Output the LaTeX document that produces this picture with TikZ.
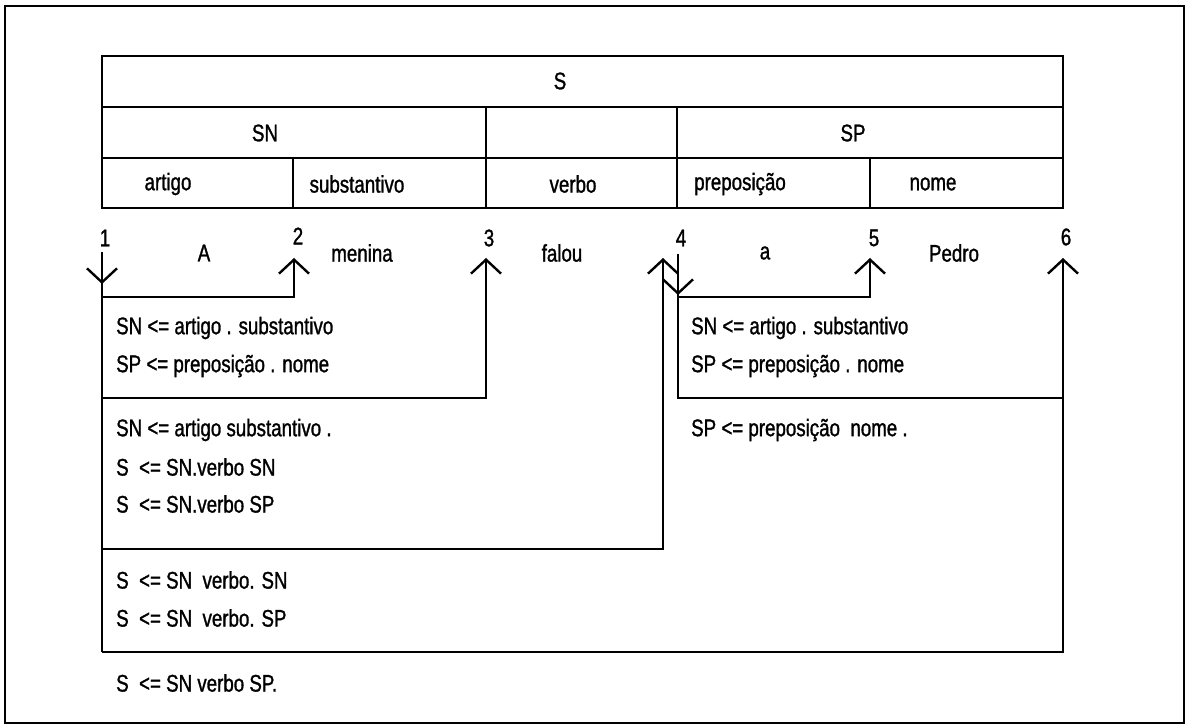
\documentclass[tikz,border=0pt]{standalone}
\usepackage{fontspec}
\setmainfont{Liberation Sans}[FakeStretch=0.78,FakeBold=1.2]
\usetikzlibrary{arrows.meta}
\begin{document}
\begin{tikzpicture}[x=0.5pt,y=-0.5pt,
  line width=1.2pt,
  txt/.style={inner sep=0pt,font=\fontsize{12}{14}\selectfont},
  ltxt/.style={txt,anchor=west},
  arr/.style={-{Straight Barb[length=7pt,width=15pt,line width=1.2pt]}},
  ]
\useasboundingbox (0,0) rectangle (1187,726);
% outer frame
\draw[line width=1pt] (5,6) rectangle (1184,723);
% table grid
\draw (102,56) rectangle (1063,208);
\draw (102,107) -- (1063,107);
\draw (102,158) -- (1063,158);
\draw (486,107) -- (486,208);
\draw (677,107) -- (677,208);
\draw (293,158) -- (293,208);
\draw (870,158) -- (870,208);
% table labels
\node[txt] (tS) at (560,81) {S};
\node[txt] (tSN) at (265,133) {SN};
\node[txt] (tSP) at (853,133) {SP};
\node[txt] (tart) at (168,184) {artigo};
\node[txt] (tsub) at (357,184) {substantivo};
\node[txt] (tverb) at (573,184) {verbo};
\node[txt] (tprep) at (740,184) {preposição};
\node[txt] (tnome) at (933,184) {nome};
% vertex numbers
\node[txt] (n1) at (105,238) {1};
\node[txt] (n2) at (298,236) {2};
\node[txt] (n3) at (489,238) {3};
\node[txt] (n4) at (681,238) {4};
\node[txt] (n5) at (874,238) {5};
\node[txt] (n6) at (1066,237) {6};
% words
\node[txt] (wA) at (204,253) {A};
\node[txt] (wmenina) at (362,253) {menina};
\node[txt] (wfalou) at (562,253) {falou};
\node[txt] (wa) at (765,253) {a};
\node[txt] (wPedro) at (954,253) {Pedro};
% coordinates for the chart edges
\coordinate (a1top) at (102,252);
\coordinate (a1tip) at (102,284);
\coordinate (b12) at (102,297);
\coordinate (tip2) at (294,258);
\coordinate (b13) at (102,398);
\coordinate (tip3) at (486,258);
\coordinate (b14) at (102,549);
\coordinate (tip4) at (663,258);
\coordinate (b16) at (102,652);
\coordinate (tip6) at (1063,258);
\coordinate (a4top) at (678,254);
\coordinate (a4tip) at (678,295);
\coordinate (b45) at (678,297);
\coordinate (tip5) at (870,258);
\coordinate (b46) at (678,398);
\coordinate (c46) at (1063,398);
% chart edges
\draw (a1top) -- (b16);
\draw[arr] (a1top) -- (a1tip);
\draw[arr] (b12) -| (tip2);
\draw[arr] (b13) -| (tip3);
\draw[arr] (b14) -| (tip4);
\draw[arr] (b16) -| (tip6);
\draw (a4top) -- (b46) -- (c46);
\draw[arr] (a4top) -- (a4tip);
\draw[arr] (b45) -| (tip5);
% rule texts
\node[ltxt] (r1) at (115,328) {SN <= artigo . substantivo};
\node[ltxt] (r2) at (115,366) {SP <= preposição . nome};
\node[ltxt] (r3) at (115,430) {SN <= artigo substantivo .};
\node[ltxt] (r4) at (115,467) {S\ \ <= SN.verbo SN};
\node[ltxt] (r5) at (115,504) {S\ \ <= SN.verbo SP};
\node[ltxt] (r6) at (115,580) {S\ \ <= SN\ \ verbo. SN};
\node[ltxt] (r7) at (115,618) {S\ \ <= SN\ \ verbo. SP};
\node[ltxt] (r8) at (115,683) {S\ \ <= SN verbo SP.};
\node[ltxt] (q1) at (690,328) {SN <= artigo . substantivo};
\node[ltxt] (q2) at (690,366) {SP <= preposição . nome};
\node[ltxt] (q3) at (690,430) {SP <= preposição\ \ nome .};
\end{tikzpicture}
\end{document}
